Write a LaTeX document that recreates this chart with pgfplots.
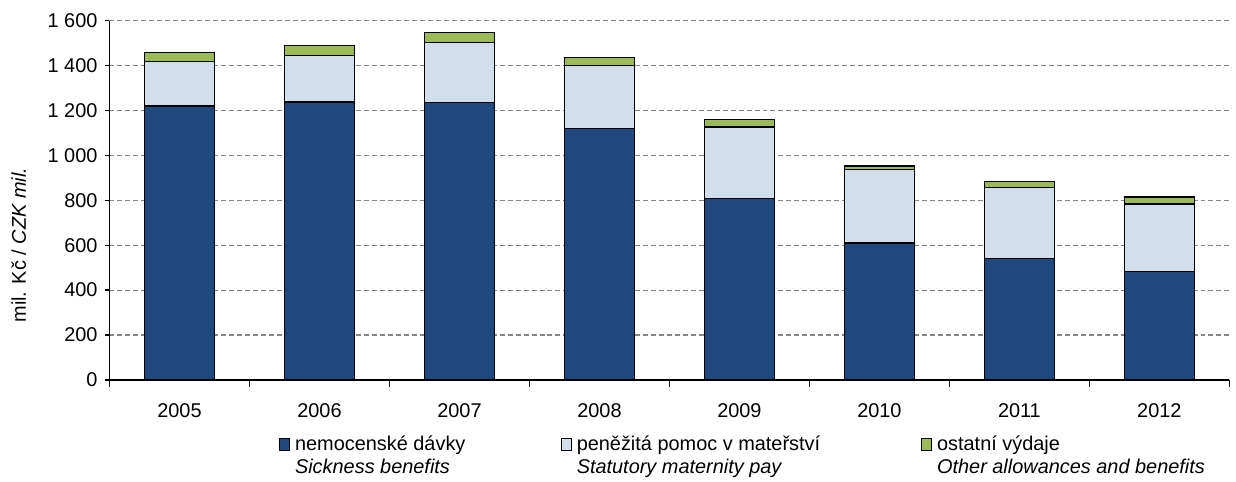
\documentclass[border=0pt]{standalone}
\usepackage{pgfplots}
\pgfplotsset{compat=1.18}
\usepackage{fontspec}
\setmainfont{Liberation Sans}
\definecolor{cBlue}{RGB}{31,73,125}
\definecolor{cLight}{RGB}{209,222,236}
\definecolor{cGreen}{RGB}{155,187,89}
\definecolor{cGrid}{RGB}{134,134,134}
\pgfplotsset{mylegend/.style={legend image code/.code={\draw[##1,line width=0.5pt] (0pt,0pt) rectangle (5pt,6.3pt);}}}
\begin{document}
\begin{tikzpicture}
\begin{axis}[
  scale only axis, width=562.5pt, height=180.5pt,
  ybar stacked, bar width=0.5,
  xmin=-0.5, xmax=7.5, ymin=0, ymax=1600,
  xtick={0,1,2,3,4,5,6,7},
  xticklabels={2005,2006,2007,2008,2009,2010,2011,2012},
  xtick style={draw=none},
  extra x ticks={-0.5,0.5,1.5,2.5,3.5,4.5,5.5,6.5,7.5},
  extra x tick labels={},
  extra x tick style={xtick style={draw=black,line width=0.7pt}, major tick length=3.5pt},
  ytick={0,200,...,1600},
  ytick style={draw=black,line width=0.7pt},
  major tick length=2.5pt,
  tick align=outside,
  axis x line*=bottom, axis y line*=left,
  axis line style={black,line width=0.7pt},
  ymajorgrids,
  grid style={cGrid,line width=0.6pt,dash pattern=on 2.5pt off 1.5pt},
  tick label style={font=\fontsize{10}{12}\selectfont},
  /pgf/number format/assume math mode=true,
  /pgf/number format/1000 sep={\ },
  xticklabel style={yshift=-6pt},
  ylabel={mil. Kč / \textit{CZK mil.}},
  every axis y label/.style={at={(axis description cs:-0.081,0.375)}, rotate=90, anchor=center, font=\fontsize{10}{12}\selectfont},
  legend style={at={(axis description cs:0,0)}, anchor=north west, xshift=85pt, yshift=-28pt, draw=none, fill=none, inner sep=0pt, legend columns=3, nodes={inner sep=0pt, anchor=base west}, /tikz/every odd column/.style={column sep=2.5pt}, font=\fontsize{10}{11.5}\selectfont},
]
\addplot+[mylegend, fill=cBlue, draw=black, line width=0.7pt] coordinates {(0,1219) (1,1238) (2,1236) (3,1120) (4,808) (5,610) (6,542) (7,483)};
\addlegendentry{\parbox[t]{133.5pt}{nemocenské dávky\\\textit{Sickness benefits}}}
\addplot+[mylegend, fill=cLight, draw=black, line width=0.7pt] coordinates {(0,199) (1,207) (2,266) (3,280) (4,318) (5,328) (6,316) (7,300)};
\addlegendentry{\parbox[t]{173pt}{peněžitá pomoc v mateřství\\\textit{Statutory maternity pay}}}
\addplot+[mylegend, fill=cGreen, draw=black, line width=0.7pt] coordinates {(0,41) (1,43) (2,45) (3,35) (4,34) (5,15) (6,27) (7,32)};
\addlegendentry{\parbox[t]{140pt}{ostatní výdaje\\\textit{Other allowances and benefits}}}
\coordinate (ax0) at (rel axis cs:0,0);
\end{axis}
\path (ax0) ++(-55pt,-51.15pt) rectangle ++(618pt,242pt);
\end{tikzpicture}
\end{document}
